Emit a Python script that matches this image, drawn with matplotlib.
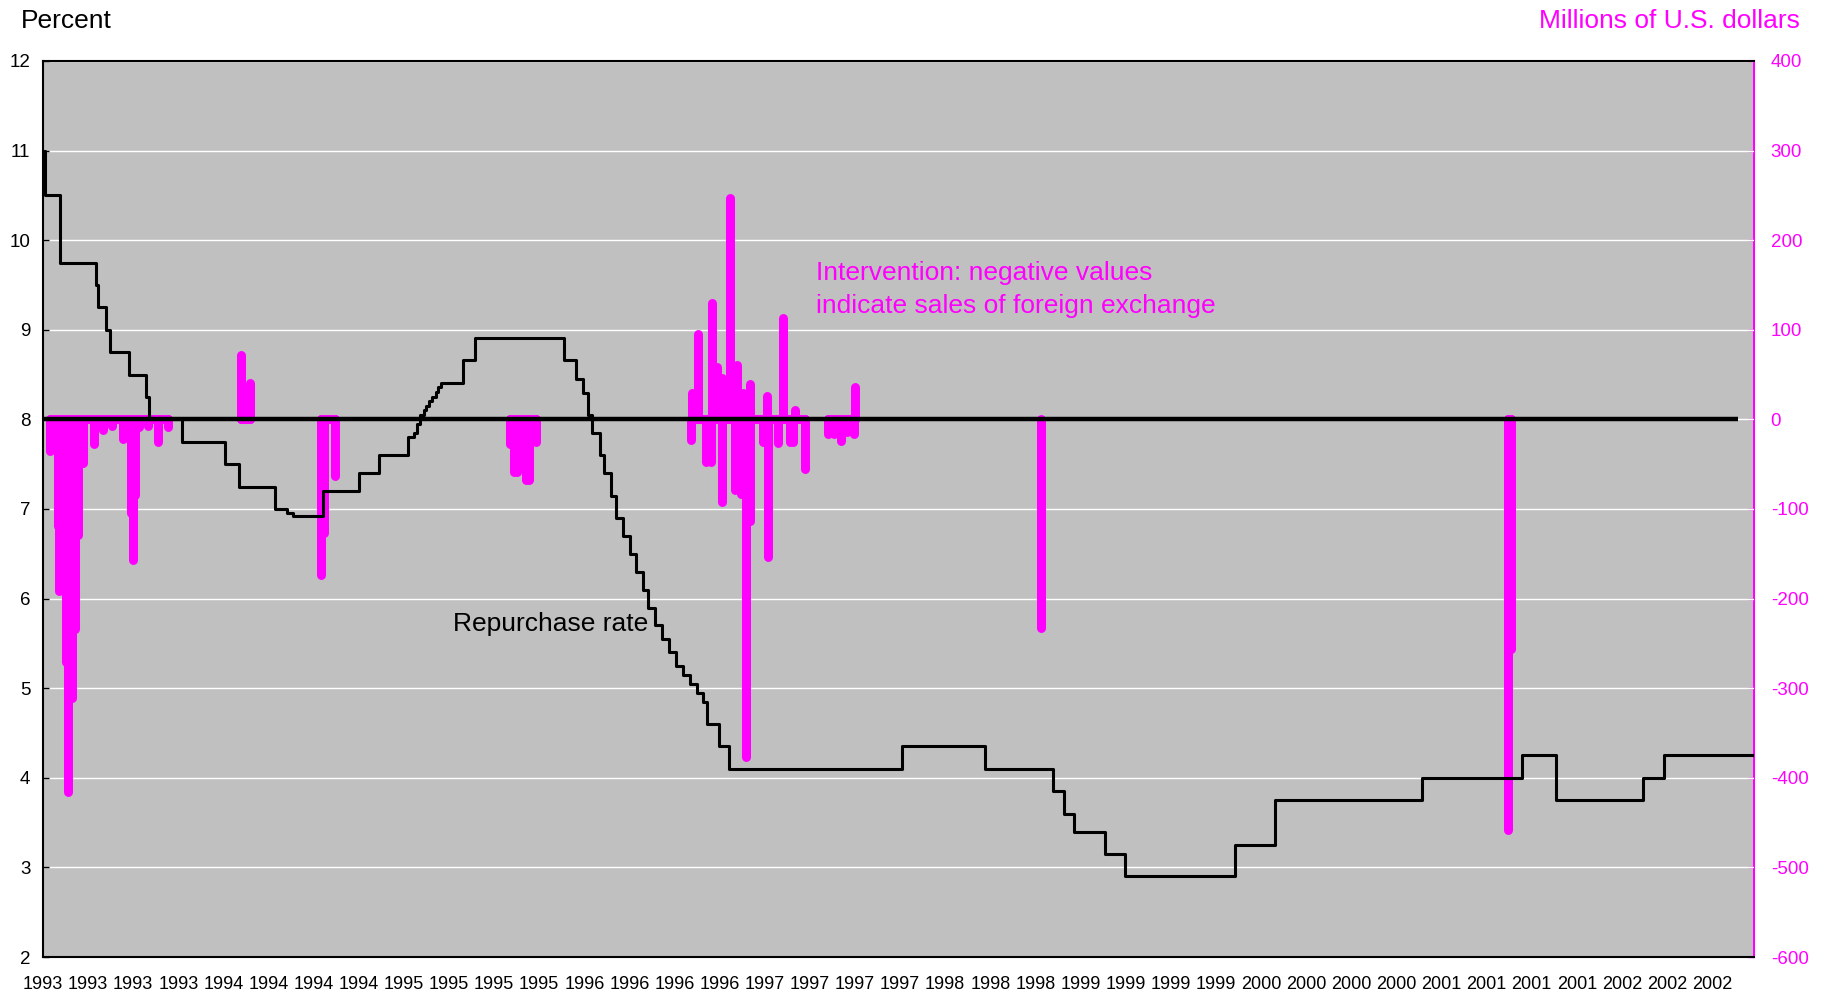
import numpy as np
import matplotlib
matplotlib.use("Agg")
import matplotlib.pyplot as plt

plt.rcParams['font.family'] = ['Liberation Sans', 'DejaVu Sans']
plt.rcParams['axes.unicode_minus'] = False

MAGENTA = '#FF00FF'
BG = '#C0C0C0'

# ---------------- data ----------------
# Repurchase rate (percent), step changes: date (decimal year) -> new level
rate_dates = [1993.00, 1993.01, 1993.10, 1993.31, 1993.32, 1993.37, 1993.39, 1993.50,
              1993.60, 1993.62, 1993.81, 1994.06, 1994.14, 1994.35, 1994.42, 1994.46,
              1994.63, 1994.84, 1994.96, 1995.13, 1995.16, 1995.18, 1995.20, 1995.22,
              1995.23, 1995.25, 1995.27, 1995.29, 1995.30, 1995.32, 1995.45, 1995.52,
              1996.04, 1996.11, 1996.15, 1996.18, 1996.20, 1996.25, 1996.27, 1996.31,
              1996.34, 1996.38, 1996.42, 1996.46, 1996.50, 1996.53, 1996.57, 1996.61,
              1996.65, 1996.69, 1996.73, 1996.77, 1996.81, 1996.85, 1996.87, 1996.94,
              1997.00, 1998.01, 1998.49, 1998.89, 1998.95, 1999.01, 1999.19, 1999.31,
              1999.95, 2000.18, 2001.04, 2001.62, 2001.82, 2002.33, 2002.45]
rate_values = [11.00, 10.50, 9.75, 9.50, 9.25, 9.00, 8.75, 8.50,
               8.25, 8.00, 7.75, 7.50, 7.25, 7.00, 6.95, 6.92,
               7.20, 7.40, 7.60, 7.80, 7.85, 7.95, 8.05, 8.10,
               8.15, 8.20, 8.25, 8.31, 8.36, 8.41, 8.66, 8.91,
               8.66, 8.45, 8.30, 8.05, 7.85, 7.60, 7.40, 7.15,
               6.90, 6.70, 6.50, 6.30, 6.10, 5.90, 5.70, 5.55,
               5.40, 5.25, 5.15, 5.05, 4.95, 4.85, 4.60, 4.35,
               4.10, 4.35, 4.10, 3.85, 3.60, 3.40, 3.15, 2.90,
               3.25, 3.75, 4.00, 4.25, 3.75, 4.00, 4.25]
series_end = 2002.975

# Intervention (millions of U.S. dollars): date -> amount
int_dates = [1993.038, 1993.086, 1993.096, 1993.135, 1993.143, 1993.170, 1993.189, 1993.205,
             1993.232, 1993.299, 1993.347, 1993.401, 1993.465, 1993.513, 1993.522, 1993.539,
             1993.559, 1993.614, 1993.668, 1993.731,
             1994.153, 1994.205, 1994.618, 1994.639, 1994.705,
             1995.720, 1995.745, 1995.761, 1995.813, 1995.836, 1995.877,
             1996.775, 1996.784, 1996.819, 1996.866, 1996.892, 1996.903, 1996.929, 1996.959,
             1996.961, 1997.005, 1997.037, 1997.044, 1997.069, 1997.081, 1997.098, 1997.119,
             1997.119, 1997.195, 1997.221, 1997.224, 1997.285, 1997.317, 1997.355, 1997.372,
             1997.384, 1997.442, 1997.577, 1997.612, 1997.655, 1997.687, 1997.728, 1997.734,
             1998.818,
             2001.541, 2001.556]
int_values = [-35, -119, -191, -271, -416, -311, -234, -129,
              -49, -27, -12, -7, -22, -104, -157, -84,
              -9, -7, -25, -9,
              72, 41, -174, -127, -63,
              -27, -59, -59, -68, -68, -25,
              -23, 30, 95, -48, -48, 130, 59, 46,
              -92, 247, -79, 61, -83, 30, -377, 40,
              -113, -25, 26, -154, -26, 113, -25, -25,
              11, -55, -16, -16, -24, -14, -16, 36,
              -233,
              -458, -256]

zero_line_span = [1993.0, 2002.88]

xtick_start = 1993.0
xtick_step = 0.263
xtick_labels = ['1993', '1993', '1993', '1993', '1994', '1994', '1994', '1994',
                '1995', '1995', '1995', '1995', '1996', '1996', '1996', '1996',
                '1997', '1997', '1997', '1997', '1998', '1998', '1998',
                '1999', '1999', '1999', '1999', '2000', '2000', '2000', '2000',
                '2001', '2001', '2001', '2001', '2002', '2002', '2002']


def to_pct(m):
    return 8 + np.asarray(m) / 100.0


def to_musd(p):
    return (np.asarray(p) - 8) * 100.0


# ---------------- figure ----------------
W, H = 1829, 999
fig = plt.figure(figsize=(W / 100, H / 100), dpi=100)
fig.patch.set_facecolor('white')
ax = fig.add_axes([43 / W, 1 - 957 / H, (1754 - 43) / W, (957 - 61) / H])
ax.set_facecolor(BG)
ax.set_xlim(1993.0, series_end)
ax.set_ylim(2, 12)

ax.set_yticks(range(2, 13))
ax.yaxis.grid(True, color='white', lw=1.0, zorder=0.5)
ax.set_axisbelow(True)

# intervention bars
ax.vlines(int_dates, 8, to_pct(int_values), colors=MAGENTA, lw=6.5,
          capstyle='round', zorder=2)
# intervention zero segments over each episode
d = np.array(int_dates)
brk = np.where(np.diff(d) > 0.1)[0]
starts = np.r_[d[0], d[brk + 1]]
ends = np.r_[d[brk], d[-1]]
for s, e in zip(starts, ends):
    ax.plot([s, e], [8, 8], color=MAGENTA, lw=6.5, solid_capstyle='round', zorder=2)

# repurchase rate
ax.step(rate_dates + [series_end], rate_values + [rate_values[-1]], where='post',
        color='black', lw=2.2, zorder=3)

# zero line
ax.plot(zero_line_span, [8, 8], color='black', lw=3.2, solid_capstyle='butt', zorder=4)

# axes styling
for side in ['left', 'top', 'bottom']:
    ax.spines[side].set_color('black')
    ax.spines[side].set_linewidth(1.5)
ax.spines['right'].set_visible(False)

ax.set_xticks(xtick_start + np.arange(len(xtick_labels)) * xtick_step)
ax.set_xticklabels(xtick_labels)
ax.tick_params(axis='x', length=0, pad=14, labelsize=13)
ax.tick_params(axis='y', direction='in', length=4, width=1, pad=9, labelsize=13.5,
               colors='black')

sec = ax.secondary_yaxis('right', functions=(to_musd, to_pct))
sec.set_yticks(range(-600, 401, 100))
sec.spines['right'].set_color(MAGENTA)
sec.spines['right'].set_linewidth(1.5)
sec.tick_params(direction='in', length=4, width=1, pad=12, labelsize=13.5,
                colors=MAGENTA)

# annotations
ax.text(1995.39, 5.72, 'Repurchase rate', fontsize=19, ha='left', va='center',
        color='black')
ax.text(1997.504, 9.45, 'Intervention: negative values\nindicate sales of foreign exchange',
        fontsize=19, ha='left', va='center', color=MAGENTA, linespacing=1.45)

fig.text(21 / W, 1 - 21 / H, 'Percent', fontsize=19, ha='left', va='center')
fig.text(1800 / W, 1 - 21 / H, 'Millions of U.S. dollars', fontsize=19, ha='right',
         va='center', color=MAGENTA)

fig.savefig('out.png', dpi=100, facecolor='white')
